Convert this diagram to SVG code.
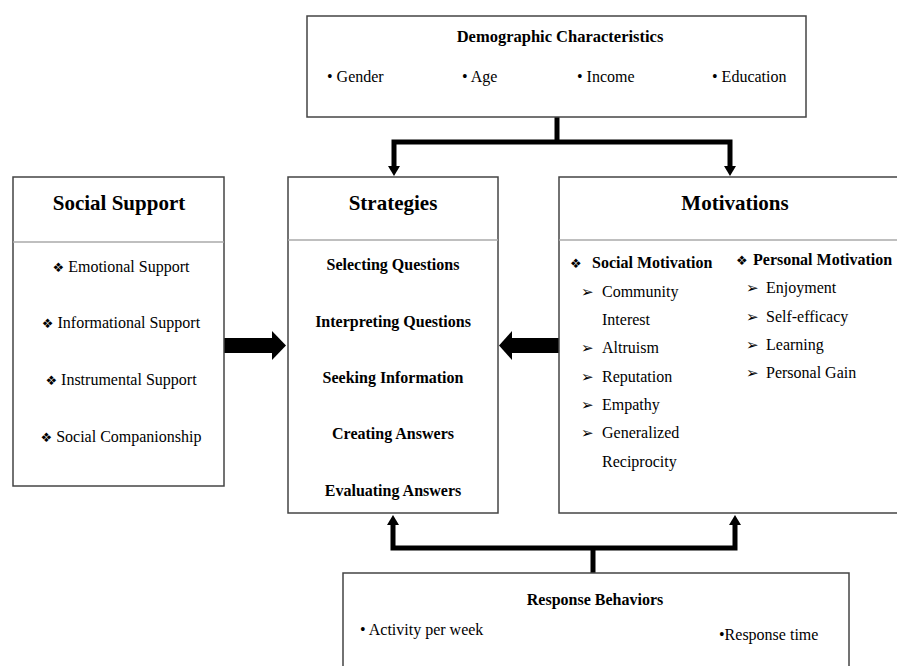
<svg xmlns="http://www.w3.org/2000/svg" width="897" height="666" viewBox="0 0 897 666">
<style>
text{font-family:"Liberation Serif","Times New Roman","DejaVu Serif",serif;fill:#000}
.box{fill:#fff;stroke:#444;stroke-width:1.5}
.div{stroke:#aaa;stroke-width:1.5}
.t{font-size:21px;font-weight:bold;text-anchor:middle}
.h{font-size:16px;font-weight:bold}
.hc{font-size:16px;font-weight:bold;text-anchor:middle}
.dt{font-size:16.5px;font-weight:bold;text-anchor:middle}
.r{font-size:16px}
.rc{font-size:16px;text-anchor:middle}
.g{font-family:"DejaVu Sans",sans-serif;font-size:13px}
.a{font-family:"DejaVu Sans",sans-serif;font-size:15px}
.con{fill:none;stroke:#000;stroke-width:5}
</style>
<rect width="897" height="666" fill="#fff"/>
<g id="connectors">
<polyline class="con" points="557,117 557,142"/>
<polyline class="con" points="394,167 394,142 730,142 730,167"/>
<polygon points="388,166 400,166 394,176"/>
<polygon points="724,166 736,166 730,176"/>
<polyline class="con" points="593,573 593,548"/>
<polyline class="con" points="393,524 393,548 735,548 735,524"/>
<polygon points="387,525 399,525 393,515"/>
<polygon points="729,525 741,525 735,515"/>
<rect x="224" y="338" width="49" height="15"/>
<polygon points="272,331 272,360 286,345.5"/>
<rect x="511" y="338" width="48" height="15"/>
<polygon points="512,331 512,360 499,345.5"/>
</g>
<g id="demographic">
<rect class="box" x="307" y="16" width="499" height="101"/>
<text class="dt" x="560" y="42">Demographic Characteristics</text>
<text class="r" x="327" y="82">• Gender</text>
<text class="r" x="462" y="82">• Age</text>
<text class="r" x="577" y="82">• Income</text>
<text class="r" x="712" y="82">• Education</text>
</g>
<g id="social-support">
<rect class="box" x="13" y="177" width="211" height="309"/>
<line class="div" x1="13" y1="242" x2="224" y2="242"/>
<text class="t" x="119" y="210">Social Support</text>
<text class="rc" x="121" y="272"><tspan class="g">❖</tspan> Emotional Support</text>
<text class="rc" x="121" y="328"><tspan class="g">❖</tspan> Informational Support</text>
<text class="rc" x="121" y="385"><tspan class="g">❖</tspan> Instrumental Support</text>
<text class="rc" x="121" y="442"><tspan class="g">❖</tspan> Social Companionship</text>
</g>
<g id="strategies">
<rect class="box" x="288" y="177" width="210" height="336"/>
<line class="div" x1="288" y1="240" x2="498" y2="240"/>
<text class="t" x="393" y="210">Strategies</text>
<text class="hc" x="393" y="270">Selecting Questions</text>
<text class="hc" x="393" y="327">Interpreting Questions</text>
<text class="hc" x="393" y="383">Seeking Information</text>
<text class="hc" x="393" y="439">Creating Answers</text>
<text class="hc" x="393" y="496">Evaluating Answers</text>
</g>
<g id="motivations">
<rect class="box" x="559" y="177" width="345" height="336"/>
<line class="div" x1="559" y1="240" x2="897" y2="240"/>
<text class="t" x="735" y="210">Motivations</text>
<text class="g" x="570" y="268">❖</text>
<text class="h" x="592" y="268">Social Motivation</text>
<text class="g" x="736" y="265">❖</text>
<text class="h" x="753" y="265">Personal Motivation</text>
<text class="a" x="581" y="297">➢</text>
<text class="r" x="602" y="297">Community</text>
<text class="r" x="602" y="325">Interest</text>
<text class="a" x="581" y="353">➢</text>
<text class="r" x="602" y="353">Altruism</text>
<text class="a" x="581" y="382">➢</text>
<text class="r" x="602" y="382">Reputation</text>
<text class="a" x="581" y="410">➢</text>
<text class="r" x="602" y="410">Empathy</text>
<text class="a" x="581" y="438">➢</text>
<text class="r" x="602" y="438">Generalized</text>
<text class="r" x="602" y="467">Reciprocity</text>
<text class="a" x="746" y="293">➢</text>
<text class="r" x="766" y="293">Enjoyment</text>
<text class="a" x="746" y="322">➢</text>
<text class="r" x="766" y="322">Self-efficacy</text>
<text class="a" x="746" y="350">➢</text>
<text class="r" x="766" y="350">Learning</text>
<text class="a" x="746" y="378">➢</text>
<text class="r" x="766" y="378">Personal Gain</text>
</g>
<g id="response-behaviors">
<rect class="box" x="343" y="573" width="506" height="110"/>
<text class="hc" x="595" y="605">Response Behaviors</text>
<text class="r" x="360" y="635">• Activity per week</text>
<text class="r" x="719" y="640">•Response time</text>
</g>
</svg>
